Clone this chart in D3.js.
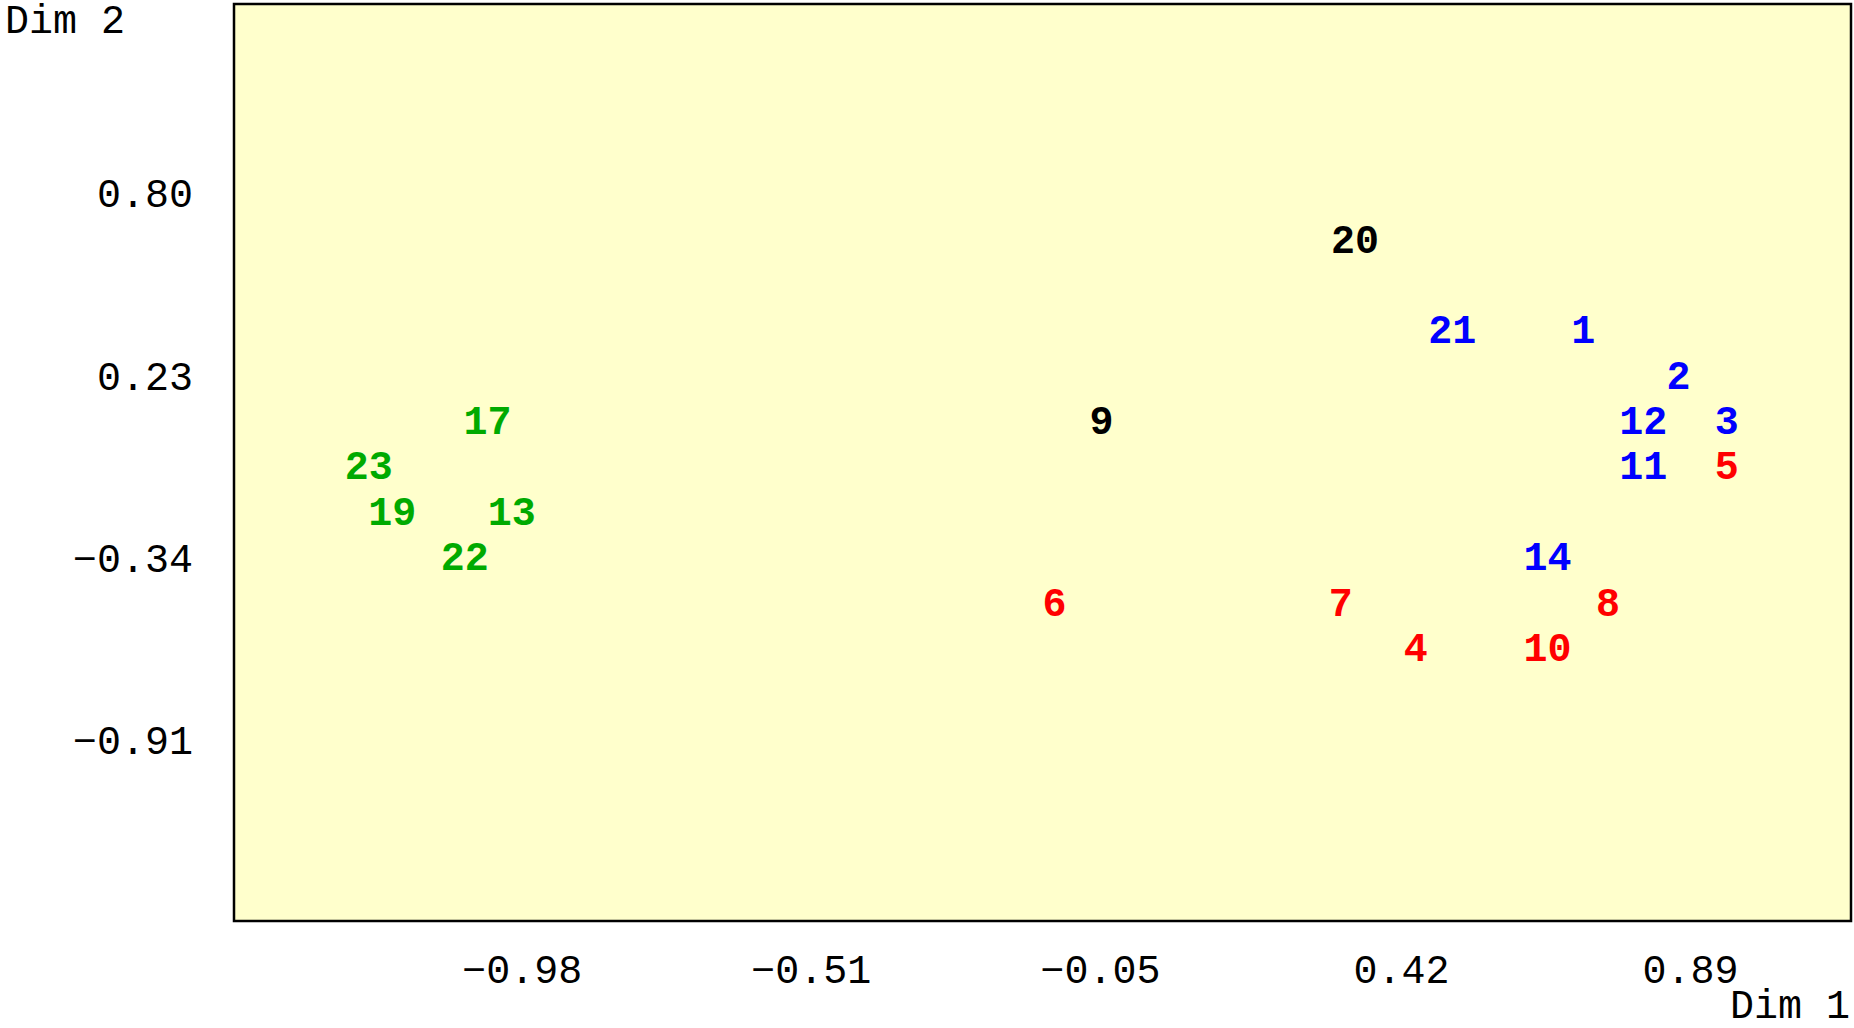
<!DOCTYPE html>
<html>
<head>
<meta charset="utf-8">
<script src="https://cdn.jsdelivr.net/npm/d3@7"></script>
<style>
  body { margin: 0; background: #fff; }
  svg text { font-family: "Liberation Mono", "Courier New", monospace; }
</style>
</head>
<body>
<div id="chart"></div>
<script>
// point labels, coordinates on the two dimensions and group colour
const labels = ["20", "21", "1", "2", "12", "3", "11", "5", "14", "8", "7", "6", "4", "10", "9", "17", "23", "19", "13", "22"];
const dim1 = [0.345, 0.502, 0.714, 0.868, 0.811, 0.946, 0.811, 0.946, 0.656, 0.754, 0.322, -0.141, 0.443, 0.656, -0.065, -1.058, -1.250, -1.212, -1.019, -1.095];
const dim2 = [0.660, 0.379, 0.379, 0.235, 0.094, 0.094, -0.046, -0.046, -0.330, -0.474, -0.474, -0.474, -0.615, -0.615, 0.094, 0.094, -0.046, -0.190, -0.190, -0.330];
const groups = ["k", "b", "b", "b", "b", "b", "b", "r", "b", "r", "r", "r", "r", "r", "k", "g", "g", "g", "g", "g"];

const xTicks = [-0.98, -0.5125, -0.045, 0.4225, 0.89];
const xTickLabels = ["−0.98", "−0.51", "−0.05", "0.42", "0.89"];
const yTicks = [0.80, 0.23, -0.34, -0.91];
const yTickLabels = ["0.80", "0.23", "−0.34", "−0.91"];

const groupColor = { k: "#000000", b: "#0000ff", r: "#ff0000", g: "#00aa00" };

const width = 1854;
const height = 1028;
const frame = { left: 234, top: 4, right: 1851, bottom: 921 };
const fontSize = 40;
const charW = fontSize * 0.6;

const svg = d3
  .select("#chart")
  .append("svg")
  .attr("width", width)
  .attr("height", height);

const x = d3.scaleLinear().domain([-1.468, 1.147]).range([frame.left, frame.right]);
const y = d3.scaleLinear().domain([-1.469, 1.397]).range([frame.bottom, frame.top]);

svg
  .append("rect")
  .attr("x", frame.left)
  .attr("y", frame.top)
  .attr("width", frame.right - frame.left)
  .attr("height", frame.bottom - frame.top)
  .attr("fill", "#ffffcc")
  .attr("stroke", "#000")
  .attr("stroke-width", 2.5);

// x axis: digits part centred on the tick, minus sign hangs left
const xAxis = d3
  .axisBottom(x)
  .tickValues(xTicks)
  .tickFormat((d, i) => xTickLabels[i])
  .tickSize(0);

svg
  .append("g")
  .attr("class", "xAxis")
  .attr("transform", `translate(0, 969)`)
  .call(xAxis)
  .call((g) => g.select(".domain").remove())
  .selectAll("text")
  .attr("y", 0)
  .attr("dy", "0.35em")
  .attr("x", 2 * charW - 2)
  .attr("text-anchor", "end")
  .attr("fill", "#000")
  .style("font-size", fontSize + "px");

const yAxis = d3
  .axisLeft(y)
  .tickValues(yTicks)
  .tickFormat((d, i) => yTickLabels[i])
  .tickSize(0);

svg
  .append("g")
  .attr("class", "yAxis")
  .attr("transform", `translate(193, 0)`)
  .call(yAxis)
  .call((g) => g.select(".domain").remove())
  .selectAll("text")
  .attr("x", 0)
  .attr("dy", "0.29em")
  .attr("text-anchor", "end")
  .attr("fill", "#000")
  .style("font-size", fontSize + "px");

svg
  .append("text")
  .attr("x", 5)
  .attr("y", 19)
  .attr("dy", "0.35em")
  .style("font-size", fontSize + "px")
  .text("Dim 2");

svg
  .append("text")
  .attr("x", 1850)
  .attr("y", 1004)
  .attr("dy", "0.35em")
  .attr("text-anchor", "end")
  .style("font-size", fontSize + "px")
  .text("Dim 1");

svg
  .append("g")
  .attr("class", "points")
  .selectAll("text")
  .data(labels)
  .join("text")
  .attr("x", (d, i) => x(dim1[i]))
  .attr("y", (d, i) => y(dim2[i]))
  .attr("dy", "0.33em")
  .attr("text-anchor", "middle")
  .attr("fill", (d, i) => groupColor[groups[i]])
  .style("font-size", fontSize + "px")
  .style("font-weight", "bold")
  .text((d) => d);
</script>
</body>
</html>
